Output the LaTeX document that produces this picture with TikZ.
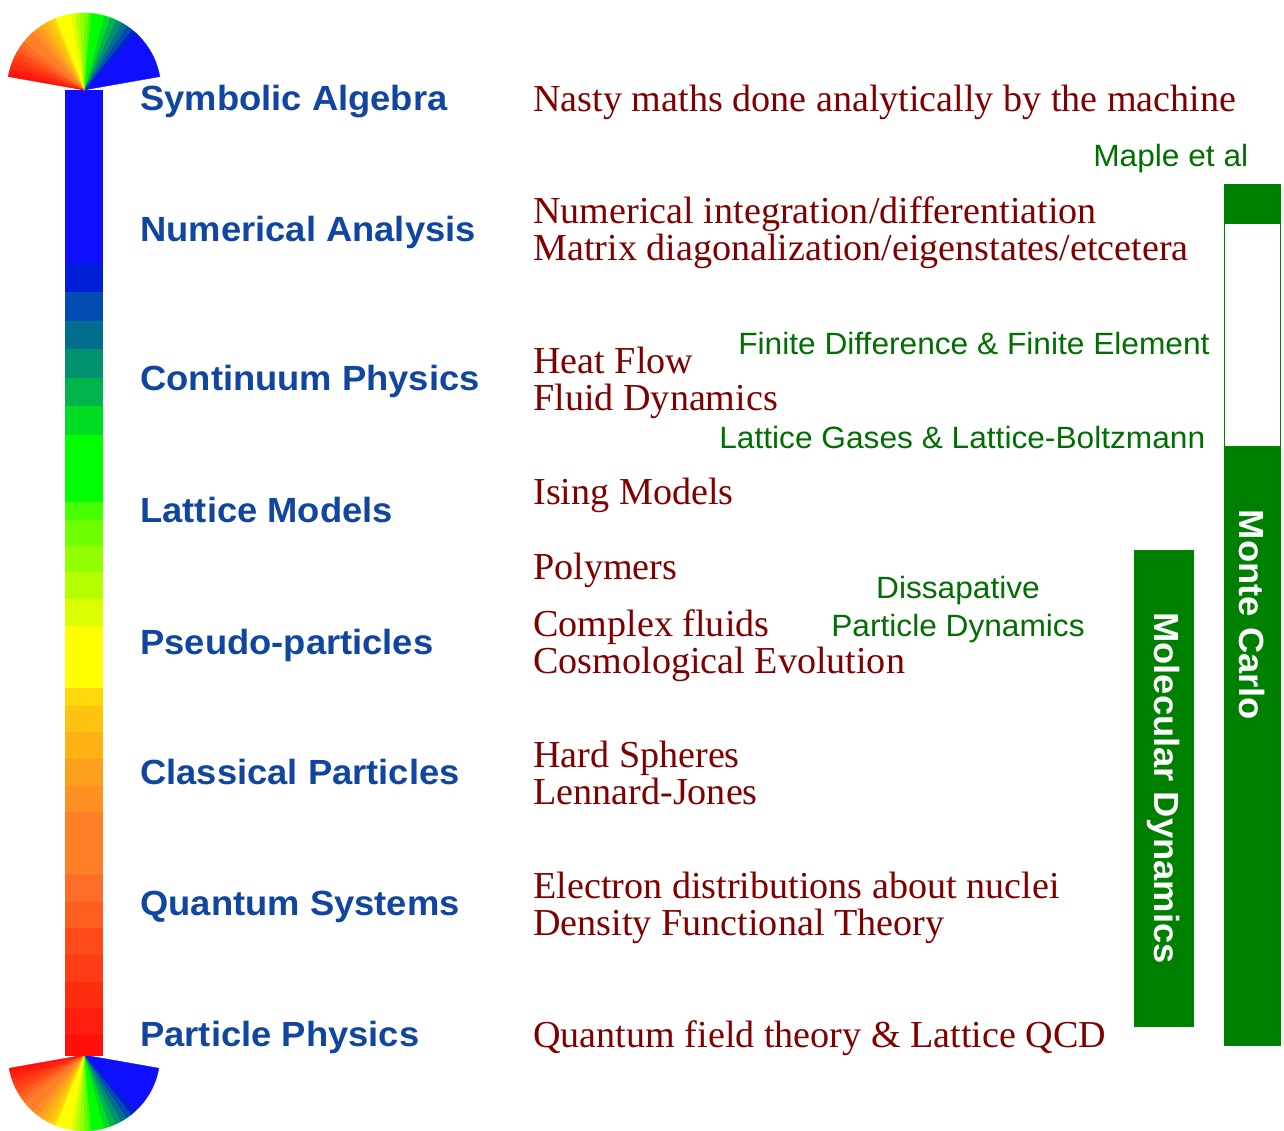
\documentclass[tikz,border=0pt]{standalone}
\usepackage{fontspec}
\usetikzlibrary{positioning}
\newfontfamily\headfont{Liberation Sans}[FakeStretch=1.04]
\newfontfamily\notefont{Liberation Sans}[FakeStretch=1.03]
\newfontfamily\appfont{Liberation Serif}
\definecolor{headblue}{RGB}{16,70,160}
\definecolor{appred}{RGB}{128,0,0}
\definecolor{methgreen}{RGB}{0,128,0}
\definecolor{notegreen}{RGB}{0,110,0}
% colour bands of the scale bar: top/bottom/fan angles/R/G/B
\newcommand\bandlist{90/263/10/47/15/15/255, 263/292/47/51.7/0/30/215,
  292/321/51.7/56.4/0/75/180, 321/349/56.4/61/0/110/140, 349/378/61/65.7/0/145/110,
  378/406/65.7/70.3/0/180/75, 406/435/70.3/75/0/220/35, 435/502/75/85/0/255/0,
  502/520/85/87.2/70/255/0, 520/546/87.2/90.3/110/255/0, 546/572/90.3/93.5/145/255/0,
  572/599/93.5/96.7/180/255/0, 599/626/96.7/100/220/255/0, 626/688/100/112/255/255/0,
  688/706/112/114.8/255/215/10, 706/732/114.8/118.9/255/195/15,
  732/759/118.9/123.2/255/178/20, 759/786/123.2/127.5/255/160/30,
  786/812/127.5/131.6/255/145/35, 812/875/131.6/141.6/255/128/40,
  875/902/141.6/145.9/255/110/40, 902/928/145.9/150/255/95/30,
  928/955/150/154.3/255/75/25, 955/982/154.3/158.6/255/60/20,
  982/1008/158.6/162.7/255/45/15, 1008/1035/162.7/167/255/30/15,
  1035/1055/167/170/255/15/10}

\begin{document}
\begin{tikzpicture}[x=0.02cm,y=-0.02cm,
  head/.style={anchor=base west,inner sep=0pt,text=headblue,font=\headfont\bfseries\fontsize{19.9}{22}\selectfont},
  app/.style={anchor=base west,inner sep=0pt,align=left,text=appred,font=\appfont\fontsize{21.7}{21.06}\selectfont},
  note/.style={anchor=base west,inner sep=0pt,text=notegreen,font=\notefont\fontsize{17.5}{21.6}\selectfont},
  method/.style={rotate=-90,inner sep=0pt,text=white,font=\headfont\bfseries\fontsize{19.9}{22}\selectfont}]
\useasboundingbox (0,0) rectangle (1284,1131);

% scale bar with a fan at each end
\foreach \ya/\yb/\aa/\ab/\r/\g/\b in \bandlist {
  \definecolor{band}{RGB}{\r,\g,\b}
  \fill[band] (65,\ya) rectangle (103,\yb+0.6);
  \filldraw[band,line width=0.2pt] (84,90) -- ++(-\aa:77) arc[start angle=-\aa,end angle=-\ab,radius=77] -- cycle;
  \filldraw[band,line width=0.2pt] (84,1055) -- ++(\aa:76) arc[start angle=\aa,end angle=\ab,radius=76] -- cycle;
}

% levels
\node[head] (symb) at (140,111) {Symbolic Algebra};
\node[head] (numan) at (140,242) {Numerical Analysis};
\node[head] (cont) at (140,391) {Continuum Physics};
\node[head] (latt) at (140,522) {Lattice Models};
\node[head] (pseudo) at (140,654) {Pseudo-particles};
\node[head] (class) at (140,784) {Classical Particles};
\node[head] (quant) at (140,915) {Quantum Systems};
\node[head] (part) at (140,1046) {Particle Physics};

% applications (multi-line nodes sit on their last line)
\node[app] (symbapp) at (533,112) {Nasty maths done analytically by the machine};
\node[app] (numapp) at (533,261) {Numerical integration/differentiation\\Matrix diagonalization/eigenstates/etcetera};
\node[app] (contapp) at (533,411) {Heat Flow\\Fluid Dynamics};
\node[app] (lattapp) at (533,504) {Ising Models};
\node[app] (polyapp) at (533,579) {Polymers};
\node[app] (pseudoapp) at (533,673) {Complex fluids\\Cosmological Evolution};
\node[app] (classapp) at (533,804) {Hard Spheres\\Lennard-Jones};
\node[app] (quantapp) at (533,935) {Electron distributions about nuclei\\Density Functional Theory};
\node[app] (partapp) at (533,1047) {Quantum field theory \& Lattice QCD};

% methods
\node[note] (maple) at (1093,167) {Maple et al};
\node[note] (fdfe) at (738,355) {Finite Difference \& Finite Element};
\node[note] (lgb) at (719,449) {Lattice Gases \& Lattice-Boltzmann};
\node[note,anchor=base,align=center] (dpd) at (958,636) {Dissapative\\Particle Dynamics};

\fill[methgreen] (1224,184) rectangle (1281,223);
\draw[methgreen] (1224.5,223) rectangle (1280.5,446);
\fill[methgreen] (1224,446) rectangle (1281,1046);
\fill[methgreen] (1134,550) rectangle (1194,1027);
\node[method] (mc) at (1252,615) {Monte Carlo};
\node[method] (md) at (1164,788) {Molecular Dynamics};
\end{tikzpicture}
\end{document}
